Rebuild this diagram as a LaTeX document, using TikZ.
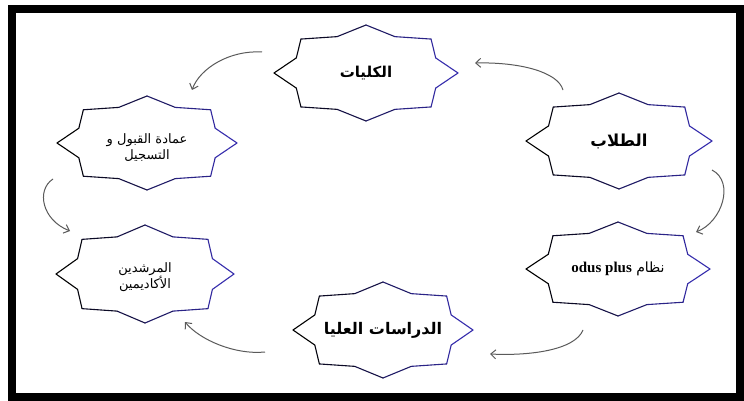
\documentclass[tikz,border=0pt]{standalone}
\usepackage{fontspec}
\usetikzlibrary{shapes.geometric,arrows.meta}
\TeXXeTstate=1
\newfontfamily\arabicfont[Script=Arabic]{DejaVu Sans}
\newfontfamily\latinserif{Liberation Serif}
\definecolor{starblue}{RGB}{55,45,175}
\definecolor{arrowgray}{RGB}{90,90,90}
\tikzset{
  starline/.style={line width=1.1pt, line cap=round, line join=round},
  starnode/.style={ellipse, inner sep=0pt, align=center, font=\arabicfont\fontsize{15}{20}\selectfont},
  smalltext/.style={font=\arabicfont\fontsize{13}{16}\selectfont},
  conn/.style={draw=arrowgray, line width=1pt, -{Straight Barb[length=5pt,width=9pt]}},
}
\newcommand\octastar[4]{%
  \foreach \i in {0,...,15}{%
    \pgfmathsetmacro\aA{\i*22.5}%
    \pgfmathsetmacro\aB{(\i+1)*22.5}%
    \pgfmathsetmacro\rA{ifthenelse(mod(\i,2)==0,1,0.82)}%
    \pgfmathsetmacro\rB{ifthenelse(mod(\i,2)==0,0.82,1)}%
    \pgfmathtruncatemacro\mix{50*(1+cos(\aA+11.25))}%
    \draw[starline, draw=starblue!\mix!black]
      ({#1+#3*\rA*cos(\aA)},{#2+#4*\rA*sin(\aA)}) --
      ({#1+#3*\rB*cos(\aB)},{#2+#4*\rB*sin(\aB)});
  }}
\begin{document}
\begin{tikzpicture}[x=1pt,y=-1pt]
\useasboundingbox (0,0) rectangle (744,401);
\fill[white] (0,0) rectangle (744,401);
% frame
\draw[line width=8pt] (12,9) rectangle (740,397);

% stars
\octastar{366}{73}{92}{48}
\octastar{619}{141}{93}{48}
\octastar{618}{269}{92}{47}
\octastar{383}{330}{90}{48}
\octastar{145}{274}{89}{49}
\octastar{147}{143}{90}{47}

% nodes
\node[starnode, minimum width=184pt, minimum height=96pt] (kul) at (366,73)
  {\textbf{\beginR الكليات\endR}};
\node[starnode, minimum width=186pt, minimum height=96pt, font=\arabicfont\fontsize{16.5}{20}\selectfont] (tal) at (619,141)
  {\textbf{\beginR الطلاب\endR}};
\node[starnode, minimum width=184pt, minimum height=94pt, font=\arabicfont\fontsize{14}{20}\selectfont] (niz) at (618,269)
  {\beginR نظام {\latinserif\bfseries\fontsize{15}{18}\selectfont\beginL odus plus\endL}\endR};
\node[starnode, minimum width=180pt, minimum height=96pt, font=\arabicfont\fontsize{16}{20}\selectfont] (dir) at (383,330)
  {\textbf{\beginR الدراسات العليا\endR}};
\node[starnode, smalltext, minimum width=178pt, minimum height=98pt] (mur) at (145,277)
  {\beginR المرشدين\endR\\\beginR الأكاديمين\endR};
\node[starnode, smalltext, minimum width=180pt, minimum height=94pt] (ima) at (147,148)
  {\beginR عمادة القبول و\endR\\\beginR التسجيل\endR};

% connector end points
\coordinate (a1) at (563,90);  \coordinate (a2) at (475,63);
\coordinate (b1) at (262,52);  \coordinate (b2) at (192,90);
\coordinate (c1) at (53,179);  \coordinate (c2) at (70,231);
\coordinate (d1) at (712,170); \coordinate (d2) at (696,232);
\coordinate (e1) at (583,330); \coordinate (e2) at (490,354);
\coordinate (f1) at (265,352); \coordinate (f2) at (185,322);

\draw[conn] (a1) .. controls (558,72) and (520,62) .. (a2);
\draw[conn] (b1) .. controls (230,50) and (200,68) .. (b2);
\draw[conn] (c1) .. controls (36,190) and (42,220) .. (c2);
\draw[conn] (d1) .. controls (735,182) and (722,222) .. (d2);
\draw[conn] (e1) .. controls (575,350) and (530,356) .. (e2);
\draw[conn] (f1) .. controls (235,355) and (200,340) .. (f2);
\end{tikzpicture}
\end{document}
